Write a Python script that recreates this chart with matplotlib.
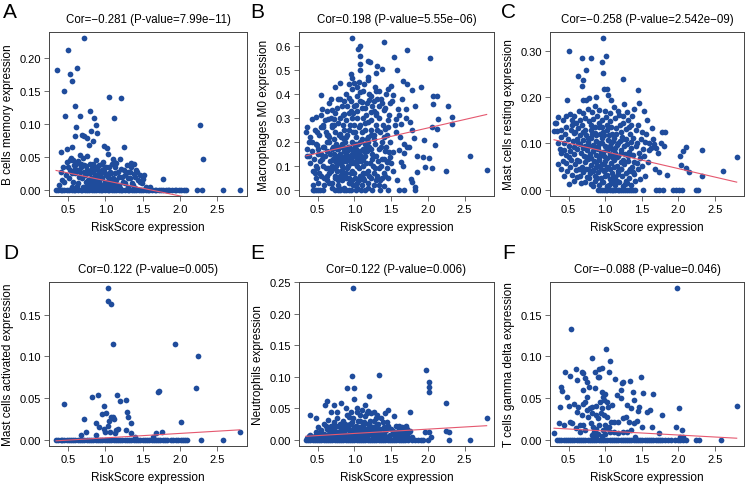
"""Six-panel correlation scatter plots: RiskScore vs immune cell fractions."""
import matplotlib

matplotlib.use("Agg")
import matplotlib.pyplot as plt
import numpy as np

plt.rcParams["font.family"] = ["Liberation Sans", "DejaVu Sans"]

# ---- data -----------------------------------------------------------------
panel_letters = ["A", "B", "C", "D", "E", "F"]
y_labels = [
    "B cells memory expression",
    "Macrophages M0 expression",
    "Mast cells resting expression",
    "Mast cells activated expression",
    "Neutrophils expression",
    "T cells gamma delta expression",
]
cor_values = ["\u22120.281", "0.198", "\u22120.258", "0.122", "0.122", "\u22120.088"]
p_values = ["7.99e\u221211", "5.55e\u221206", "2.542e\u221209", "0.005", "0.006", "0.046"]
fit_intercept = [0.0375, 0.118, 0.119, -0.0029, 0.0035, 0.0155]
fit_slope = [-0.0233, 0.070, -0.0365, 0.00535, 0.0068, -0.0048]
y_ticks = [
    [0.00, 0.05, 0.10, 0.15, 0.20],
    [0.0, 0.1, 0.2, 0.3, 0.4, 0.5, 0.6],
    [0.00, 0.10, 0.20, 0.30],
    [0.00, 0.05, 0.10, 0.15],
    [0.00, 0.05, 0.10, 0.15, 0.20, 0.25],
    [0.00, 0.05, 0.10, 0.15],
]
y_decimals = [2, 1, 2, 2, 2, 2]
x_ticks = [0.5, 1.0, 1.5, 2.0, 2.5]

# A: B cells memory
a_zero_x = [0.34, 0.36, 0.40, 0.42, 0.45, 0.49, 0.51, 0.55, 0.58, 0.60, 0.64, 0.67,
            0.69, 0.73, 0.76, 0.78, 0.82, 0.85, 0.87, 0.91, 0.94, 0.96, 1.00, 1.03,
            1.05, 1.09, 1.12, 1.14, 1.18, 1.21, 1.23, 1.27, 1.30, 1.32, 1.36, 1.39,
            1.41, 1.45, 1.48, 1.50, 1.54, 1.57, 1.59, 1.63, 1.66, 1.68, 1.72, 1.75,
            1.77, 1.81, 1.84, 1.86, 1.90, 1.93, 1.95, 1.99, 2.02, 2.05, 2.08, 2.23,
            2.29, 2.58, 2.80]
a_pts = [(0.72, 0.231), (0.50, 0.213), (0.35, 0.182), (0.62, 0.186), (0.52, 0.176),
         (0.56, 0.165), (0.44, 0.150), (1.05, 0.142), (1.21, 0.140), (0.59, 0.128),
         (0.79, 0.120), (0.46, 0.113), (0.66, 0.113), (0.85, 0.110), (1.12, 0.109),
         (0.61, 0.095), (0.88, 0.099), (2.27, 0.099), (0.69, 0.083), (0.72, 0.082),
         (0.75, 0.079), (0.59, 0.082), (0.81, 0.089), (0.89, 0.086), (0.98, 0.067),
         (1.02, 0.064), (1.25, 0.065), (0.78, 0.069), (0.83, 0.075), (0.41, 0.058),
         (0.49, 0.063), (0.56, 0.065), (0.66, 0.053), (0.75, 0.051), (1.03, 0.054),
         (2.31, 0.047), (1.20, 0.047), (1.34, 0.041), (1.39, 0.040), (1.52, 0.022),
         (1.50, 0.016), (1.49, 0.010), (1.77, 0.016), (1.15, 0.041), (1.12, 0.043),
         (1.10, 0.047), (0.40, 0.028), (0.42, 0.015), (0.45, 0.012), (0.48, 0.042),
         (0.50, 0.035), (0.53, 0.030), (0.54, 0.048), (0.57, 0.046), (0.58, 0.038),
         (0.60, 0.025), (0.62, 0.030), (0.63, 0.044), (0.65, 0.020), (0.67, 0.035),
         (0.68, 0.040), (0.70, 0.048), (0.71, 0.028), (0.73, 0.022), (0.74, 0.036),
         (0.76, 0.030), (0.77, 0.015), (0.79, 0.040), (0.80, 0.025), (0.81, 0.018),
         (0.82, 0.033), (0.84, 0.028), (0.85, 0.010), (0.86, 0.022), (0.87, 0.035),
         (0.88, 0.045), (0.90, 0.015), (0.91, 0.028), (0.92, 0.038), (0.94, 0.020),
         (0.95, 0.030), (0.96, 0.008), (0.97, 0.042), (0.99, 0.025), (1.00, 0.012),
         (1.01, 0.035), (1.04, 0.020), (1.06, 0.028), (1.08, 0.015), (1.09, 0.040),
         (1.11, 0.010), (1.13, 0.025), (1.16, 0.008), (1.18, 0.020), (1.21, 0.032),
         (1.24, 0.012), (1.26, 0.022), (1.29, 0.038), (1.31, 0.018), (1.33, 0.028),
         (1.36, 0.010), (1.38, 0.024), (1.41, 0.030), (1.44, 0.015), (1.46, 0.022),
         (1.55, 0.005), (1.60, 0.004), (0.55, 0.005), (0.62, 0.006), (0.70, 0.004),
         (0.78, 0.008), (0.83, 0.005), (0.88, 0.003), (0.93, 0.006), (1.02, 0.004),
         (1.10, 0.005), (1.20, 0.003), (1.30, 0.004), (1.40, 0.003), (0.74, 0.012),
         (0.80, 0.010)]
a_pts_core = [(0.38, 0.008), (0.43, 0.035), (0.47, 0.022), (0.51, 0.018), (0.52, 0.045),
              (0.55, 0.025), (0.57, 0.012), (0.59, 0.032), (0.61, 0.040), (0.64, 0.010),
              (0.66, 0.028), (0.69, 0.018), (0.72, 0.038), (0.75, 0.008), (0.77, 0.025),
              (0.79, 0.004), (0.81, 0.030), (0.83, 0.040), (0.84, 0.015), (0.86, 0.032),
              (0.87, 0.008), (0.89, 0.020), (0.90, 0.030), (0.92, 0.012), (0.93, 0.025),
              (0.95, 0.040), (0.96, 0.018), (0.98, 0.032), (0.99, 0.006), (1.01, 0.022),
              (1.03, 0.012), (1.05, 0.035), (1.07, 0.008), (1.08, 0.025), (1.10, 0.018),
              (1.13, 0.035), (1.15, 0.015), (1.17, 0.028), (1.19, 0.008), (1.22, 0.020),
              (1.25, 0.030), (1.27, 0.010), (1.30, 0.028), (1.33, 0.018), (1.35, 0.035),
              (1.37, 0.008), (1.40, 0.020), (1.43, 0.028), (1.47, 0.012)]

# B: Macrophages M0
b_zero_x = [0.43, 0.45, 0.47, 0.50, 0.53, 0.57, 0.74, 0.77, 0.81, 0.86, 0.88, 0.92,
            0.95, 1.02, 1.09, 1.15, 1.24, 1.35, 1.45, 1.60, 1.68, 1.82]
b_pts = [(0.97, 0.632), (1.08, 0.597), (1.05, 0.587), (1.40, 0.615), (1.71, 0.583),
         (2.03, 0.551), (1.08, 0.559), (1.54, 0.555), (1.18, 0.537), (1.21, 0.531),
         (1.31, 0.516), (1.08, 0.523), (1.58, 0.499), (1.38, 0.503), (1.29, 0.485),
         (0.95, 0.481), (1.08, 0.499), (0.97, 0.464), (1.18, 0.457), (1.06, 0.450),
         (1.66, 0.453), (1.71, 0.439), (0.99, 0.443), (0.92, 0.439), (0.73, 0.429),
         (0.81, 0.443), (1.90, 0.429), (1.50, 0.432), (1.45, 0.422), (1.79, 0.415),
         (1.08, 0.406), (1.29, 0.413), (1.43, 0.401), (1.53, 0.394), (0.55, 0.394),
         (2.07, 0.390), (2.13, 0.392), (0.93, 0.383), (0.81, 0.380), (0.68, 0.380),
         (1.31, 0.380), (1.51, 0.371), (1.20, 0.373), (1.10, 0.366), (1.02, 0.355),
         (2.07, 0.359), (1.82, 0.350), (2.28, 0.350), (1.59, 0.338), (1.70, 0.338),
         (0.56, 0.338), (0.70, 0.331), (0.95, 0.327), (0.86, 0.317), (1.22, 0.324),
         (1.40, 0.331), (1.30, 0.310), (0.72, 0.296), (0.64, 0.294), (0.48, 0.303),
         (0.42, 0.294), (1.56, 0.296), (1.76, 0.282), (2.14, 0.294), (2.33, 0.303),
         (2.33, 0.273), (1.63, 0.276), (2.05, 0.262), (2.13, 0.255), (0.57, 0.262),
         (0.36, 0.262), (0.72, 0.269), (0.99, 0.271), (1.18, 0.283), (1.41, 0.255),
         (0.34, 0.241), (0.49, 0.241), (0.63, 0.227), (0.81, 0.234), (1.22, 0.227),
         (1.81, 0.215), (0.38, 0.199), (0.35, 0.142), (0.49, 0.185), (1.72, 0.178),
         (1.95, 0.207), (2.10, 0.189), (1.61, 0.168), (1.67, 0.154), (1.47, 0.157),
         (1.53, 0.157), (1.49, 0.136), (1.85, 0.143), (1.94, 0.137), (2.02, 0.133),
         (2.58, 0.143), (1.44, 0.115), (1.63, 0.115), (1.96, 0.097), (2.06, 0.090),
         (1.85, 0.076), (2.25, 0.078), (2.80, 0.083), (1.77, 0.045), (1.79, 0.031),
         (1.82, 0.014), (1.40, 0.017),
         (0.43, 0.08), (0.47, 0.05), (0.50, 0.03), (0.55, 0.06), (0.58, 0.02),
         (0.62, 0.04), (0.66, 0.07), (0.70, 0.03), (0.74, 0.05), (0.77, 0.02),
         (0.80, 0.06), (0.83, 0.04), (0.86, 0.01), (0.89, 0.05), (0.92, 0.03),
         (0.95, 0.07), (0.98, 0.02), (1.01, 0.05), (1.04, 0.03), (1.07, 0.06),
         (1.10, 0.02), (1.13, 0.04), (1.16, 0.07), (1.19, 0.03), (1.23, 0.05),
         (1.27, 0.02), (1.31, 0.06), (1.35, 0.04), (1.40, 0.07), (1.45, 0.05),
         (0.40, 0.11), (0.45, 0.13), (0.49, 0.09), (0.53, 0.12), (0.57, 0.10),
         (0.60, 0.14), (0.64, 0.09), (0.67, 0.12), (0.70, 0.10), (0.73, 0.14),
         (0.76, 0.08), (0.79, 0.11), (0.82, 0.13), (0.85, 0.09), (0.88, 0.12),
         (0.91, 0.10), (0.94, 0.14), (0.97, 0.08), (1.00, 0.11), (1.03, 0.13),
         (1.06, 0.09), (1.09, 0.12), (1.12, 0.10), (1.15, 0.14), (1.18, 0.08),
         (1.21, 0.11), (1.24, 0.13), (1.28, 0.09), (1.32, 0.12), (1.36, 0.10),
         (1.40, 0.13), (1.44, 0.09), (1.50, 0.11),
         (0.36, 0.17), (0.42, 0.16), (0.47, 0.19), (0.51, 0.17), (0.55, 0.15),
         (0.59, 0.18), (0.63, 0.16), (0.66, 0.20), (0.69, 0.17), (0.72, 0.15),
         (0.75, 0.19), (0.78, 0.17), (0.81, 0.15), (0.84, 0.18), (0.87, 0.20),
         (0.90, 0.16), (0.93, 0.18), (0.96, 0.15), (0.99, 0.19), (1.02, 0.17),
         (1.05, 0.15), (1.08, 0.20), (1.11, 0.17), (1.14, 0.19), (1.17, 0.16),
         (1.20, 0.18), (1.24, 0.15), (1.28, 0.19), (1.33, 0.17), (1.38, 0.20),
         (1.43, 0.18),
         (0.40, 0.22), (0.46, 0.25), (0.52, 0.23), (0.57, 0.27), (0.61, 0.24),
         (0.65, 0.22), (0.69, 0.26), (0.74, 0.24), (0.78, 0.28), (0.82, 0.22),
         (0.86, 0.25), (0.90, 0.23), (0.94, 0.27), (0.98, 0.24), (1.02, 0.22),
         (1.06, 0.26), (1.10, 0.24), (1.14, 0.28), (1.18, 0.22), (1.22, 0.25),
         (1.26, 0.23), (1.30, 0.27), (1.35, 0.24), (1.40, 0.22), (1.46, 0.26),
         (0.55, 0.31), (0.62, 0.33), (0.68, 0.30), (0.76, 0.34), (0.84, 0.31),
         (0.90, 0.35), (0.98, 0.32), (1.04, 0.30), (1.10, 0.34), (1.16, 0.31),
         (1.24, 0.35), (1.30, 0.32), (1.38, 0.36), (1.47, 0.31),
         (0.88, 0.40), (0.96, 0.42), (1.04, 0.39), (1.12, 0.41), (1.20, 0.40),
         (1.28, 0.43), (1.36, 0.38),
         (0.80, 0.14), (0.83, 0.10), (0.86, 0.16), (0.92, 0.13), (0.95, 0.11),
         (0.98, 0.17), (0.77, 0.12), (0.71, 0.18), (0.88, 0.07), (0.93, 0.05),
         (0.82, 0.08), (0.73, 0.06)]
b_pts_core = [(0.44, 0.02), (0.48, 0.10), (0.52, 0.07), (0.56, 0.13), (0.59, 0.05),
              (0.61, 0.09), (0.63, 0.20), (0.65, 0.03), (0.67, 0.15), (0.68, 0.08),
              (0.71, 0.13), (0.72, 0.21), (0.75, 0.10), (0.76, 0.17), (0.78, 0.04),
              (0.79, 0.23), (0.81, 0.12), (0.83, 0.19), (0.84, 0.27), (0.85, 0.06),
              (0.87, 0.14), (0.88, 0.22), (0.89, 0.29), (0.90, 0.09), (0.91, 0.18),
              (0.93, 0.25), (0.94, 0.03), (0.95, 0.13), (0.96, 0.20), (0.97, 0.30),
              (0.99, 0.07), (1.00, 0.16), (1.01, 0.24), (1.03, 0.10), (1.04, 0.33),
              (1.05, 0.19), (1.06, 0.04), (1.07, 0.27), (1.09, 0.14), (1.10, 0.21),
              (1.11, 0.07), (1.12, 0.30), (1.13, 0.16), (1.15, 0.25), (1.16, 0.11),
              (1.17, 0.36), (1.19, 0.20), (1.20, 0.06), (1.22, 0.29), (1.23, 0.17),
              (1.25, 0.10), (1.26, 0.33), (1.27, 0.21), (1.29, 0.14), (1.30, 0.04),
              (1.31, 0.25), (1.33, 0.09), (1.34, 0.30), (1.36, 0.18), (1.37, 0.13),
              (1.39, 0.27), (1.41, 0.16), (1.42, 0.06), (1.44, 0.23), (1.46, 0.12),
              (1.48, 0.20), (1.52, 0.08), (1.55, 0.27), (1.58, 0.04), (1.62, 0.22),
              (1.66, 0.10), (1.70, 0.30), (1.74, 0.18),
              (0.38, 0.14), (0.42, 0.20), (0.46, 0.07), (0.50, 0.15), (0.54, 0.26),
              (0.57, 0.18), (0.60, 0.29), (0.64, 0.23), (0.66, 0.36), (0.70, 0.27),
              (0.73, 0.32), (0.77, 0.38), (0.80, 0.30), (0.83, 0.35), (0.86, 0.37),
              (0.92, 0.32), (0.95, 0.37), (1.00, 0.35), (1.03, 0.43), (1.08, 0.37),
              (1.13, 0.44), (1.14, 0.34), (1.19, 0.47), (1.23, 0.39), (1.27, 0.37),
              (1.33, 0.41), (1.34, 0.35), (1.42, 0.34), (1.45, 0.29), (1.48, 0.36),
              (1.57, 0.24), (1.60, 0.31), (1.65, 0.38), (1.68, 0.19), (1.78, 0.25),
              (0.74, 0.12), (0.78, 0.14), (0.81, 0.18), (0.84, 0.12), (0.86, 0.21),
              (0.89, 0.15), (0.91, 0.13), (0.94, 0.17), (0.97, 0.12), (0.99, 0.14),
              (1.02, 0.19), (1.05, 0.12), (1.08, 0.16), (1.11, 0.13), (1.14, 0.17),
              (1.17, 0.21), (0.62, 0.06), (0.69, 0.01), (0.72, 0.09), (0.79, 0.01),
              (0.84, 0.07), (0.96, 0.04), (1.03, 0.01), (1.12, 0.05), (1.18, 0.01),
              (1.26, 0.07), (1.33, 0.02), (1.38, 0.05)]

# C: Mast cells resting
c_zero_x = [0.90, 0.93, 0.95, 0.98, 1.01, 1.03, 1.06, 1.09, 1.11, 1.14, 1.17, 1.19,
            1.22, 1.25, 1.27, 1.30, 1.33, 1.36, 1.38, 1.41, 1.52, 1.69, 1.74, 1.79,
            1.93, 1.97, 2.01, 2.05, 2.24, 2.27]
c_pts = [(0.97, 0.327), (0.50, 0.299), (1.01, 0.289), (0.68, 0.285), (0.80, 0.285),
         (0.96, 0.276), (0.74, 0.258), (0.63, 0.246), (0.70, 0.236), (0.97, 0.251),
         (1.25, 0.239), (0.68, 0.224), (0.99, 0.218), (1.03, 0.217), (1.45, 0.215),
         (0.48, 0.193), (0.70, 0.193), (0.74, 0.193), (0.78, 0.197), (0.88, 0.200),
         (1.04, 0.204), (1.08, 0.193), (1.26, 0.184), (1.46, 0.188), (1.53, 0.170),
         (1.57, 0.150), (1.40, 0.175), (1.64, 0.133), (1.78, 0.124), (1.82, 0.124),
         (1.67, 0.099), (1.80, 0.095), (2.06, 0.083), (2.11, 0.092), (2.32, 0.087),
         (2.80, 0.070), (2.02, 0.074), (2.04, 0.054), (2.10, 0.048), (2.15, 0.038),
         (2.32, 0.030), (2.61, 0.041), (1.73, 0.038), (1.85, 0.032), (1.68, 0.045),
         (1.55, 0.030), (1.48, 0.023), (1.41, 0.020),
         (0.33, 0.145), (0.36, 0.158), (0.42, 0.150), (0.47, 0.160), (0.52, 0.163),
         (0.55, 0.150), (0.60, 0.145), (0.66, 0.150), (0.72, 0.155), (0.78, 0.148),
         (0.84, 0.152), (0.89, 0.160), (0.95, 0.150), (1.01, 0.157), (1.07, 0.148),
         (1.13, 0.155), (1.19, 0.162), (1.25, 0.145), (1.31, 0.150), (1.37, 0.160),
         (0.34, 0.127), (0.40, 0.130), (0.46, 0.135), (0.53, 0.128), (0.58, 0.122),
         (0.63, 0.133), (0.69, 0.125), (0.74, 0.118), (0.80, 0.130), (0.86, 0.122),
         (0.91, 0.135), (0.97, 0.125), (1.03, 0.130), (1.09, 0.120), (1.15, 0.133),
         (1.21, 0.125), (1.28, 0.132), (1.34, 0.120), (1.42, 0.128), (1.50, 0.125),
         (0.38, 0.088), (0.44, 0.100), (0.50, 0.095), (0.56, 0.105), (0.61, 0.110),
         (0.65, 0.098), (0.70, 0.108), (0.73, 0.095), (0.77, 0.104), (0.81, 0.112),
         (0.84, 0.096), (0.88, 0.106), (0.92, 0.100), (0.96, 0.112), (1.00, 0.095),
         (1.04, 0.108), (1.08, 0.100), (1.12, 0.112), (1.16, 0.097), (1.20, 0.105),
         (1.25, 0.110), (1.30, 0.098), (1.36, 0.104), (1.44, 0.100), (1.55, 0.104),
         (1.60, 0.100),
         (0.40, 0.080), (0.46, 0.075), (0.52, 0.084), (0.57, 0.078), (0.62, 0.088),
         (0.67, 0.080), (0.71, 0.074), (0.75, 0.086), (0.79, 0.078), (0.83, 0.083),
         (0.87, 0.075), (0.90, 0.088), (0.94, 0.080), (0.98, 0.072), (1.02, 0.085),
         (1.06, 0.078), (1.10, 0.088), (1.14, 0.080), (1.18, 0.073), (1.22, 0.085),
         (1.27, 0.078), (1.32, 0.082), (1.38, 0.075), (1.46, 0.080), (1.53, 0.072),
         (1.60, 0.085), (1.70, 0.090),
         (0.36, 0.055), (0.42, 0.062), (0.47, 0.058), (0.53, 0.065), (0.59, 0.055),
         (0.64, 0.062), (0.68, 0.050), (0.72, 0.060), (0.76, 0.066), (0.80, 0.054),
         (0.85, 0.062), (0.88, 0.050), (0.92, 0.064), (0.96, 0.056), (1.00, 0.062),
         (1.04, 0.050), (1.08, 0.058), (1.12, 0.065), (1.16, 0.052), (1.21, 0.060),
         (1.26, 0.055), (1.31, 0.062), (1.37, 0.050), (1.43, 0.058), (1.50, 0.052),
         (0.48, 0.040), (0.55, 0.032), (0.60, 0.042), (0.66, 0.030), (0.70, 0.038),
         (0.75, 0.028), (0.79, 0.036), (0.83, 0.042), (0.86, 0.030), (0.90, 0.038),
         (0.94, 0.026), (0.98, 0.040), (1.02, 0.032), (1.06, 0.024), (1.10, 0.036),
         (1.14, 0.028), (1.18, 0.040), (1.23, 0.030), (1.28, 0.036), (1.33, 0.025),
         (1.38, 0.038),
         (0.50, 0.012), (0.62, 0.027), (0.72, 0.018), (0.80, 0.012), (0.86, 0.020),
         (0.92, 0.010), (0.97, 0.016), (1.03, 0.008), (1.08, 0.015), (1.13, 0.010),
         (1.19, 0.018), (1.24, 0.008), (1.30, 0.014), (1.36, 0.010)]
c_pts_core = [(0.35, 0.100), (0.39, 0.115), (0.43, 0.085), (0.45, 0.120), (0.49, 0.110),
              (0.51, 0.070), (0.54, 0.140), (0.57, 0.092), (0.59, 0.125), (0.61, 0.065),
              (0.63, 0.100), (0.66, 0.118), (0.68, 0.140), (0.70, 0.090), (0.72, 0.130),
              (0.74, 0.070), (0.76, 0.112), (0.77, 0.045), (0.78, 0.095), (0.80, 0.140),
              (0.81, 0.068), (0.82, 0.120), (0.84, 0.040), (0.85, 0.088), (0.86, 0.135),
              (0.87, 0.060), (0.88, 0.118), (0.89, 0.025), (0.90, 0.095), (0.91, 0.145),
              (0.92, 0.070), (0.93, 0.120), (0.94, 0.045), (0.95, 0.102), (0.96, 0.135),
              (0.97, 0.082), (0.98, 0.055), (0.99, 0.118), (1.00, 0.030), (1.01, 0.092),
              (1.02, 0.140), (1.03, 0.068), (1.05, 0.118), (1.06, 0.045), (1.07, 0.095),
              (1.08, 0.135), (1.09, 0.070), (1.10, 0.020), (1.11, 0.105), (1.12, 0.050),
              (1.13, 0.090), (1.15, 0.120), (1.16, 0.070), (1.17, 0.035), (1.18, 0.100),
              (1.20, 0.140), (1.21, 0.080), (1.22, 0.045), (1.23, 0.115), (1.25, 0.065),
              (1.26, 0.095), (1.28, 0.020), (1.29, 0.110), (1.31, 0.072), (1.33, 0.135),
              (1.34, 0.045), (1.35, 0.090), (1.38, 0.112), (1.40, 0.060), (1.42, 0.095),
              (1.45, 0.140), (1.47, 0.068), (1.49, 0.110), (1.52, 0.088), (1.56, 0.120),
              (1.58, 0.060), (1.63, 0.090), (1.66, 0.110), (1.72, 0.080), (1.76, 0.100),
              (0.30, 0.127), (0.32, 0.145), (0.58, 0.160), (0.64, 0.170), (0.70, 0.165),
              (0.76, 0.175), (0.82, 0.168), (0.86, 0.180), (0.92, 0.172), (1.00, 0.170),
              (1.06, 0.165), (1.12, 0.178), (1.18, 0.170), (1.24, 0.160), (1.30, 0.168),
              (1.35, 0.140),
              (0.40, 0.045), (0.44, 0.030), (0.52, 0.050), (0.57, 0.020), (0.64, 0.045),
              (0.67, 0.015), (0.74, 0.045), (0.78, 0.025), (0.84, 0.008), (0.90, 0.052),
              (0.95, 0.018), (1.01, 0.045), (1.05, 0.010), (1.11, 0.030), (1.16, 0.020),
              (1.21, 0.045), (1.27, 0.012), (1.32, 0.040), (1.40, 0.035), (1.45, 0.045)]

# D: Mast cells activated
d_zero_x = [0.34, 0.37, 0.40, 0.42, 0.45, 0.48, 0.51, 0.54, 0.57, 0.60, 0.63, 0.66,
            0.69, 0.72, 0.75, 0.78, 0.81, 0.84, 0.87, 0.90, 0.93, 0.96, 0.99, 1.02,
            1.05, 1.08, 1.11, 1.14, 1.17, 1.20, 1.23, 1.26, 1.29, 1.32, 1.35, 1.38,
            1.41, 1.44, 1.47, 1.50, 1.53, 1.56, 1.59, 1.62, 1.65, 1.68, 1.71, 1.74,
            1.77, 1.80, 1.83, 1.88, 1.91, 1.95, 1.98, 2.01, 2.04, 2.07, 2.10, 2.28,
            2.58]
d_pts = [(1.04, 0.182), (1.04, 0.167), (1.07, 0.163), (1.10, 0.115), (1.93, 0.115),
         (2.24, 0.101), (2.22, 0.062), (1.70, 0.058), (1.72, 0.059), (0.45, 0.043),
         (0.82, 0.051), (0.90, 0.054), (0.98, 0.041), (0.96, 0.031), (1.01, 0.032),
         (1.05, 0.023), (1.08, 0.028), (1.10, 0.027), (1.12, 0.025), (1.16, 0.054),
         (1.20, 0.047), (1.28, 0.048), (1.29, 0.034), (1.30, 0.027), (1.34, 0.020),
         (1.35, 0.008), (0.72, 0.025), (0.74, 0.010), (0.68, 0.006), (0.88, 0.020),
         (0.91, 0.015), (0.87, 0.006), (0.98, 0.013), (0.99, 0.010), (1.03, 0.017),
         (1.06, 0.010), (1.13, 0.008), (1.15, 0.012), (1.17, 0.013), (1.28, 0.012),
         (1.40, 0.003), (1.64, 0.004), (1.68, 0.008), (1.76, 0.009), (2.01, 0.021),
         (2.80, 0.010)]
d_pts_core = []

# E: Neutrophils
e_zero_x = [0.34, 0.37, 0.40, 0.43, 0.46, 0.49, 0.52, 0.55, 0.58, 0.61, 0.64, 0.67,
            0.70, 0.73, 0.76, 0.79, 0.82, 0.85, 0.88, 0.91, 0.94, 0.97, 1.00, 1.03,
            1.06, 1.09, 1.12, 1.15, 1.18, 1.21, 1.24, 1.27, 1.30, 1.33, 1.36, 1.39,
            1.42, 1.45, 1.48, 1.51, 1.54, 1.57, 1.60, 1.63, 1.66, 1.69, 1.73, 1.78,
            1.82, 1.86, 1.90, 1.94, 2.00, 2.29, 2.58]
e_pts = [(0.98, 0.240), (0.96, 0.101), (1.33, 0.103), (1.97, 0.111), (2.01, 0.092),
         (2.01, 0.084), (2.01, 0.076), (2.24, 0.058), (0.90, 0.083), (1.00, 0.082),
         (1.00, 0.065), (1.20, 0.069), (0.63, 0.062), (0.60, 0.056), (0.72, 0.055),
         (0.82, 0.058), (0.68, 0.044), (0.40, 0.040), (0.48, 0.035), (1.76, 0.045),
         (1.54, 0.038), (2.80, 0.035), (1.14, 0.055), (2.29, 0.012), (2.24, 0.014),
         (2.02, 0.012), (2.04, 0.005), (1.96, 0.012),
         (0.36, 0.003), (0.40, 0.008), (0.44, 0.005), (0.47, 0.012), (0.50, 0.020),
         (0.52, 0.008), (0.55, 0.015), (0.58, 0.025), (0.60, 0.005), (0.62, 0.018),
         (0.64, 0.032), (0.66, 0.010), (0.68, 0.022), (0.70, 0.006), (0.72, 0.028),
         (0.74, 0.014), (0.76, 0.035), (0.78, 0.008), (0.80, 0.020), (0.82, 0.012),
         (0.84, 0.030), (0.86, 0.005), (0.88, 0.018), (0.90, 0.040), (0.92, 0.010),
         (0.94, 0.025), (0.96, 0.015), (0.98, 0.035), (1.00, 0.008), (1.02, 0.022),
         (1.04, 0.045), (1.06, 0.012), (1.08, 0.030), (1.10, 0.005), (1.12, 0.020),
         (1.14, 0.038), (1.16, 0.010), (1.18, 0.026), (1.20, 0.015), (1.22, 0.042),
         (1.24, 0.008), (1.26, 0.030), (1.28, 0.018), (1.30, 0.005), (1.32, 0.025),
         (1.34, 0.012), (1.36, 0.035), (1.38, 0.008), (1.40, 0.020), (1.42, 0.014),
         (1.44, 0.028), (1.47, 0.006), (1.50, 0.018), (1.53, 0.010), (1.56, 0.022),
         (1.59, 0.005), (1.62, 0.015), (1.65, 0.020), (1.68, 0.008), (1.71, 0.018),
         (1.74, 0.012), (1.78, 0.005), (0.83, 0.015), (0.87, 0.025), (0.93, 0.018),
         (0.97, 0.028), (1.01, 0.015), (1.05, 0.030), (1.09, 0.020), (1.13, 0.028),
         (1.17, 0.018), (1.21, 0.030), (1.25, 0.020), (1.29, 0.035), (0.95, 0.045),
         (1.07, 0.040), (1.19, 0.046), (1.27, 0.044), (1.31, 0.040), (1.41, 0.042),
         (1.45, 0.048)]
e_pts_core = [(0.38, 0.006), (0.42, 0.003), (0.46, 0.007), (0.49, 0.004), (0.53, 0.012),
              (0.56, 0.005), (0.59, 0.010), (0.61, 0.022), (0.63, 0.008), (0.65, 0.015),
              (0.67, 0.004), (0.69, 0.012), (0.71, 0.018), (0.73, 0.006), (0.75, 0.022),
              (0.77, 0.012), (0.79, 0.004), (0.81, 0.026), (0.83, 0.008), (0.85, 0.020),
              (0.87, 0.010), (0.89, 0.004), (0.91, 0.024), (0.93, 0.008), (0.95, 0.012),
              (0.97, 0.004), (0.99, 0.020), (1.01, 0.006), (1.03, 0.012), (1.05, 0.020),
              (1.07, 0.006), (1.09, 0.012), (1.11, 0.024), (1.13, 0.008), (1.15, 0.016),
              (1.17, 0.004), (1.19, 0.010), (1.21, 0.022), (1.23, 0.012), (1.25, 0.004),
              (1.27, 0.010), (1.29, 0.022), (1.31, 0.012), (1.33, 0.004), (1.35, 0.018),
              (1.37, 0.010), (1.39, 0.028), (1.41, 0.006), (1.43, 0.016), (1.46, 0.022),
              (1.49, 0.008), (1.52, 0.014), (1.55, 0.004), (1.58, 0.012), (1.61, 0.022),
              (1.64, 0.008), (1.67, 0.016), (1.70, 0.010), (1.73, 0.004), (1.76, 0.014),
              (1.60, 0.018), (1.66, 0.012), (1.70, 0.022), (0.88, 0.050), (1.03, 0.050),
              (1.10, 0.048), (1.17, 0.042), (0.76, 0.045), (0.93, 0.037)]

# F: T cells gamma delta
f_zero_x = [0.34, 0.37, 0.40, 0.43, 0.46, 0.49, 0.52, 0.55, 0.58, 0.61, 0.64, 0.67,
            0.70, 0.73, 0.76, 0.79, 0.82, 0.85, 0.88, 0.91, 0.94, 0.97, 1.00, 1.03,
            1.06, 1.09, 1.12, 1.15, 1.18, 1.21, 1.24, 1.27, 1.30, 1.33, 1.36, 1.39,
            1.42, 1.45, 1.48, 1.51, 1.54, 1.57, 1.60, 1.63, 1.66, 1.69, 1.72, 1.75,
            1.78, 1.82, 1.86, 1.90, 1.95, 2.00, 2.03, 2.07, 2.10, 2.24, 2.28, 2.58]
f_pts = [(1.98, 0.182), (0.53, 0.133), (1.01, 0.109), (1.06, 0.095), (0.82, 0.098),
         (0.45, 0.082), (0.60, 0.085), (0.68, 0.082), (0.70, 0.080), (0.86, 0.082),
         (0.92, 0.085), (0.96, 0.086), (0.91, 0.076), (0.90, 0.075), (1.05, 0.081),
         (1.13, 0.073), (1.49, 0.075), (0.52, 0.077), (0.62, 0.072), (0.73, 0.074),
         (0.75, 0.070), (0.78, 0.064), (0.40, 0.063), (0.41, 0.059), (0.48, 0.052),
         (0.69, 0.060), (0.75, 0.052), (0.86, 0.062), (0.95, 0.058), (0.97, 0.052),
         (0.99, 0.048), (1.02, 0.045), (1.00, 0.055), (1.23, 0.068), (1.25, 0.070),
         (1.34, 0.071), (1.21, 0.060), (1.16, 0.054), (1.38, 0.058), (1.52, 0.056),
         (1.65, 0.055), (1.40, 0.048), (1.46, 0.040), (0.38, 0.039), (0.50, 0.041),
         (0.58, 0.043), (0.63, 0.039), (0.70, 0.043), (0.72, 0.046), (0.79, 0.038),
         (0.82, 0.040), (0.88, 0.041), (0.93, 0.045), (0.95, 0.038), (1.04, 0.040),
         (1.10, 0.042), (1.22, 0.050), (1.30, 0.042), (1.36, 0.038), (1.45, 0.035),
         (1.57, 0.034), (1.62, 0.036), (1.78, 0.030), (2.01, 0.038), (0.62, 0.033),
         (0.68, 0.030), (0.75, 0.036), (0.77, 0.028), (0.82, 0.032), (0.87, 0.030),
         (0.90, 0.026), (0.94, 0.032), (0.98, 0.030), (1.03, 0.028), (1.08, 0.022),
         (1.12, 0.022), (1.18, 0.022), (1.24, 0.026), (1.28, 0.028), (1.33, 0.022),
         (1.40, 0.020), (1.44, 0.023), (1.50, 0.015), (1.64, 0.016), (1.74, 0.008),
         (1.97, 0.015), (2.05, 0.012), (2.80, 0.041), (0.37, 0.020), (0.44, 0.018),
         (0.52, 0.022), (0.55, 0.020), (0.60, 0.014), (0.65, 0.018), (0.66, 0.010),
         (0.70, 0.018), (0.72, 0.012), (0.80, 0.020), (0.83, 0.015), (0.85, 0.010),
         (0.88, 0.013), (0.92, 0.018), (0.97, 0.012), (1.00, 0.018), (1.02, 0.014),
         (1.05, 0.016), (1.07, 0.010), (1.12, 0.010), (1.18, 0.008), (1.25, 0.010),
         (1.30, 0.009), (1.36, 0.012), (1.41, 0.004), (0.30, 0.008), (0.82, 0.006),
         (0.85, 0.008), (0.88, 0.005), (0.90, 0.007), (0.95, 0.005), (1.00, 0.007),
         (2.02, 0.003), (2.04, 0.002), (2.07, 0.004)]
f_pts_core = []

zero_rows = [a_zero_x, b_zero_x, c_zero_x, d_zero_x, e_zero_x, f_zero_x]
point_sets = [a_pts + a_pts_core, b_pts + b_pts_core, c_pts + c_pts_core,
              d_pts + d_pts_core, e_pts + e_pts_core, f_pts + f_pts_core]

# ---- layout (pixel boxes of the 748x485 reference) -------------------------
W, H = 748, 485
boxes = [(49, 33, 247, 197), (299, 33, 494, 197), (550, 33, 744, 197),
         (49, 283, 247, 447), (299, 283, 494, 447), (550, 283, 744, 447)]
letter_pos = [(3, 3), (250, 3), (501, 3), (3, 244), (250, 244), (502, 244)]
POINT_COLOR = "#1f4c9c"
LINE_COLOR = "#e5586f"


def draw_panel(fig, i):
    l, t, r, b = boxes[i]
    ax = fig.add_axes([l / W, 1 - b / H, (r - l) / W, (b - t) / H])
    pts = np.array(point_sets[i])
    zx = np.array(zero_rows[i])
    x = np.concatenate([zx, pts[:, 0]])
    y = np.concatenate([np.zeros_like(zx), pts[:, 1]])
    ax.scatter(x, y, s=17, color=POINT_COLOR, linewidths=0, zorder=2)

    xs = np.array([x.min(), x.max()])
    ax.plot(xs, fit_intercept[i] + fit_slope[i] * xs, color=LINE_COLOR, lw=0.8, zorder=3)

    ax.set_xlim(0.245, 2.90)
    pad = 0.04 * y.max()
    ax.set_ylim(-pad, y.max() + pad)
    ax.set_xticks(x_ticks)
    ax.set_xticklabels([f"{v:.1f}" for v in x_ticks])
    ax.set_yticks(y_ticks[i])
    ax.set_yticklabels([f"{v:.{y_decimals[i]}f}" for v in y_ticks[i]])
    ax.tick_params(direction="out", length=3.5, width=0.6, color="#555555",
                   labelsize=8, pad=2)
    for sp in ax.spines.values():
        sp.set_linewidth(0.7)
        sp.set_color("#444444")
    ax.set_xlabel("RiskScore expression", fontsize=8.5, labelpad=5)
    ax.set_ylabel(y_labels[i], fontsize=8.5, labelpad=4)
    ax.set_title(f"Cor={cor_values[i]} (P-value={p_values[i]})", fontsize=8.3, pad=7)

    lx, ly = letter_pos[i]
    fig.text(lx / W, 1 - ly / H, panel_letters[i], fontsize=15, ha="left", va="top")


fig = plt.figure(figsize=(W / 100, H / 100), dpi=100)
for i in range(6):
    draw_panel(fig, i)
fig.savefig("out.png", dpi=100)
